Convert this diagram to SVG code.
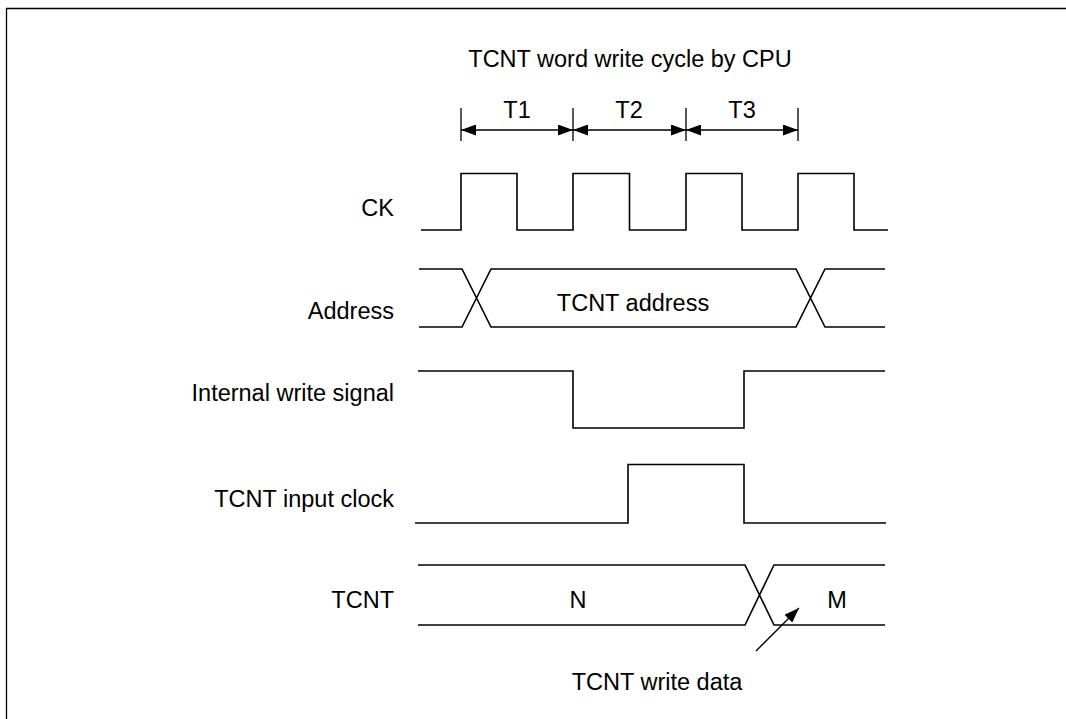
<svg xmlns="http://www.w3.org/2000/svg" width="1066" height="719" viewBox="0 0 1066 719">
<style>
text{font-family:"Liberation Sans",Arial,sans-serif;font-size:23.5px;fill:#000}
.lbl{text-anchor:end}
.c{text-anchor:middle}
.w{fill:none;stroke:#000;stroke-width:1.6}
.t{fill:none;stroke:#000;stroke-width:1.3}
</style>
<defs>
<marker id="ah" viewBox="0 0 15 11" refX="15" refY="5.5" markerWidth="15" markerHeight="11" markerUnits="userSpaceOnUse" orient="auto-start-reverse">
<path d="M0,0 L15,5.5 L0,11 Z" fill="#000"/>
</marker>
</defs>
<rect width="1066" height="719" fill="#fff"/>
<path d="M6.5,719 V8.5 H1066" fill="none" stroke="#000" stroke-width="1.3"/>
<g id="title"><text class="c" x="630" y="67">TCNT word write cycle by CPU</text></g>
<g id="cycles">
<text class="c" x="517" y="118">T1</text>
<text class="c" x="629" y="118">T2</text>
<text class="c" x="742" y="118">T3</text>
</g>
<g id="connectors">
<path class="t" d="M461,108 V141 M573,108 V141 M686,108 V141 M798,108 V141"/>
<line class="t" x1="461" y1="130" x2="573" y2="130" marker-start="url(#ah)" marker-end="url(#ah)"/>
<line class="t" x1="573" y1="130" x2="686" y2="130" marker-start="url(#ah)" marker-end="url(#ah)"/>
<line class="t" x1="686" y1="130" x2="798" y2="130" marker-start="url(#ah)" marker-end="url(#ah)"/>
<line class="t" x1="756" y1="651" x2="799" y2="608" marker-end="url(#ah)"/>
</g>
<g id="ck">
<text class="lbl" x="394" y="216">CK</text>
<path class="w" d="M421,230 H461 V173.5 H517 V230 H573 V173.5 H629.5 V230 H686 V173.5 H742 V230 H798 V173.5 H854 V230 H888"/>
</g>
<g id="address">
<text class="lbl" x="394" y="319">Address</text>
<path class="w" d="M419,269 H462 L491,327 H796 L825,269 H885 M419,327 H462 L491,269 H796 L825,327 H885"/>
<text class="c" x="633" y="311">TCNT address</text>
</g>
<g id="write">
<text class="lbl" x="394" y="401">Internal write signal</text>
<path class="w" d="M418,371 H573 V428 H744 V371 H885"/>
</g>
<g id="inclock">
<text class="lbl" x="394" y="507">TCNT input clock</text>
<path class="w" d="M415,523 H628 V464.5 H744 V523 H886"/>
</g>
<g id="tcnt">
<text class="lbl" x="394" y="608">TCNT</text>
<path class="w" d="M418,565 H745 L774,625 H885 M418,625 H745 L774,565 H885"/>
<text class="c" x="578" y="608">N</text>
<text class="c" x="837" y="608">M</text>
</g>
<g id="note"><text class="c" x="657" y="690">TCNT write data</text></g>
</svg>
